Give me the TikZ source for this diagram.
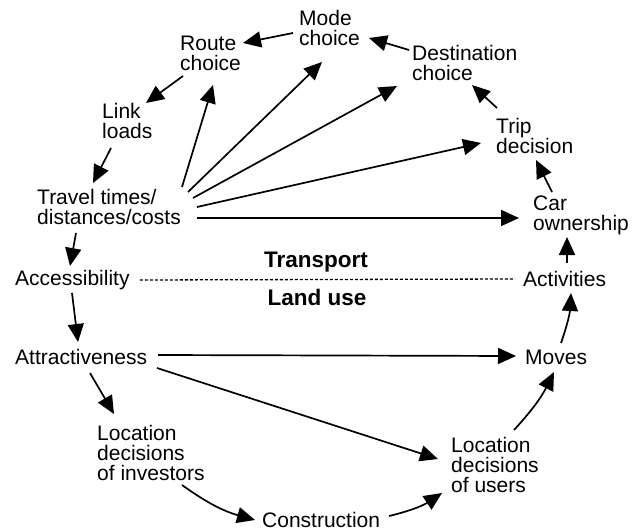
\documentclass[tikz,border=0pt]{standalone}
\usepackage{fontspec}
\setmainfont{Liberation Sans}
\usetikzlibrary{arrows.meta,calc}
\tikzset{
  lbl/.style={font=\fontsize{21}{20}\selectfont, align=left, inner sep=0pt, anchor=west},
  bold lbl/.style={font=\fontsize{22.5}{22}\selectfont\bfseries, inner sep=0pt},
  arr/.style={line width=1.7pt, -{Triangle[length=18pt,width=16pt]}},
  sep line/.style={line width=1.3pt, dash pattern=on 3pt off 2pt}
}
\begin{document}
\begin{tikzpicture}[x=1pt,y=-1pt]
\useasboundingbox (0,0) rectangle (634,532);
% nodes
\node[lbl] (mode) at (299,28) {Mode\\choice};
\node[lbl] (route) at (180,53) {Route\\choice};
\node[lbl] (link) at (102,121) {Link\\loads};
\node[lbl] (tt) at (37,207) {Travel times/\\distances/costs};
\node[lbl] (acc) at (15,280) {Accessibility};
\node[lbl] (attr) at (15,357) {Attractiveness};
\node[lbl] (linv) at (97,453) {Location\\decisions\\of investors};
\node[lbl] (cons) at (262,520) {Construction};
\node[lbl] (luse) at (451,465) {Location\\decisions\\of users};
\node[lbl] (moves) at (525,357) {Moves};
\node[lbl] (act) at (523,279) {Activities};
\node[lbl] (car) at (533,215) {Car\\ownership};
\node[lbl] (trip) at (496,136) {Trip\\decision};
\node[lbl] (dest) at (412,63) {Destination\\choice};
\node[bold lbl] (transport) at (316,262) {Transport};
\node[bold lbl] (landuse) at (317,297) {Land use};
% separator
\draw[sep line] ($(acc.east)+(10,0)$) -- ($(act.west)+(-8,0)$);
% cycle
\draw[arr] ($(mode.west)+(-6,5)$) -- ($(route.west)+(63,-10)$);
\draw[arr] ($(route.west)+(3,23)$) -- ($(link.west)+(44,-18)$);
\draw[arr] ($(link.west)+(9,27)$) -- ($(tt.west)+(56,-24)$);
\draw[arr] ($(tt.west)+(39,26)$) -- ($(acc.west)+(55,-14)$);
\draw[arr] ($(acc.west)+(57,13)$) -- ($(attr.west)+(63,-15)$);
\draw[arr] ($(attr.west)+(75,16)$) -- ($(linv.west)+(17,-39)$);
\draw[arr] ($(linv.west)+(85,32)$) to[bend right=10] ($(cons.west)+(-7,0)$);
\draw[arr] ($(cons.west)+(127,-4)$) to[bend right=10] ($(luse.west)+(-9,28)$);
\draw[arr] ($(luse.west)+(63,-35)$) to[bend right=8] ($(moves.west)+(29,15)$);
\draw[arr] ($(moves.west)+(36,-14)$) to[bend right=8] ($(act.west)+(48,14)$);
\draw[arr] ($(act.west)+(44,-16)$) -- ($(car.west)+(34,22)$);
\draw[arr] ($(car.west)+(19,-23)$) -- ($(trip.west)+(40,24)$);
\draw[arr] ($(trip.west)+(1,-28)$) -- ($(dest.west)+(60,22)$);
\draw[arr] ($(dest.west)+(-3,-13)$) -- ($(mode.west)+(70,10)$);
% fan from travel times
\draw[arr] ($(tt.west)+(145,-20)$) -- ($(route.west)+(33,32)$);
\draw[arr] ($(tt.west)+(151,-15)$) -- ($(mode.west)+(23,34)$);
\draw[arr] ($(tt.west)+(156,-9)$) -- ($(dest.west)+(-15,23)$);
\draw[arr] ($(tt.west)+(160,0)$) -- ($(trip.west)+(-15,7)$);
\draw[arr] ($(tt.west)+(160,11)$) -- ($(car.west)+(-14,3)$);
% from attractiveness
\draw[arr] ($(attr.west)+(143,-2)$) -- ($(moves.west)+(-9,-1)$);
\draw[arr] ($(attr.west)+(142,11)$) -- ($(luse.west)+(-13,-6)$);
\end{tikzpicture}
\end{document}
